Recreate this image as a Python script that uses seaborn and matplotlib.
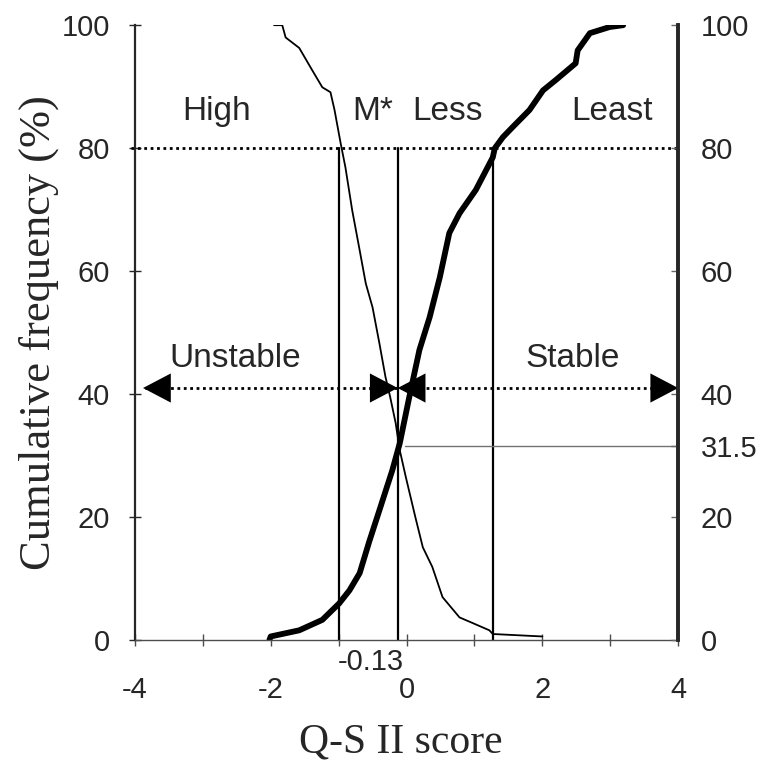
import numpy as np
import pandas as pd
import seaborn as sns
import matplotlib.pyplot as plt

# cumulative curve (thick) - ascending
asc_x = [-2.02, -2.0, -1.58, -1.24, -0.99, -0.84, -0.69, -0.55, -0.40, -0.21, -0.10,
         0.04, 0.19, 0.34, 0.49, 0.63, 0.78, 1.02, 1.27, 1.30, 1.42, 1.56, 1.81,
         2.01, 2.20, 2.49, 2.52, 2.70, 2.99, 3.19]
asc_y = [0, 0.6, 1.6, 3.3, 6.0, 8.1, 10.9, 16.0, 21.1, 27.6, 32.0,
         39.5, 47.2, 52.5, 59.0, 66.2, 69.4, 73.2, 78.5, 80.0, 81.8, 83.4, 86.2,
         89.4, 91.1, 93.8, 95.9, 98.7, 99.7, 100]

# cumulative curve (thin) - descending
desc_x = [-1.95, -1.83, -1.78, -1.58, -1.39, -1.24, -1.12, -1.06, -0.97, -0.90,
          -0.80, -0.69, -0.60, -0.50, -0.40, -0.31, -0.24, -0.16, -0.10, -0.01,
          0.13, 0.24, 0.38, 0.53, 0.78, 0.97, 1.22, 1.27, 2.0]
desc_y = [100, 100, 98.0, 96.3, 92.7, 89.9, 89.1, 86.2, 80.8, 76.9,
          69.9, 63.4, 58.0, 54.1, 48.3, 42.8, 39.5, 35.3, 30.9, 26.5,
          20.0, 15.1, 11.9, 7.0, 3.7, 2.8, 1.6, 1.0, 0.6]

cutoffs = [-1.0, -0.13, 1.28]
cut_level = 80
mid_level = 41
cross_value = 31.5

zone_labels = ["High", "M*", "Less", "Least"]
zone_x = [-2.80, -0.50, 0.60, 3.02]
side_labels = ["Unstable", "Stable"]
side_x = [-2.52, 2.45]

yticks = [0, 20, 40, 60, 80, 100]
right_ticks = [0, 20, 31.5, 40, 60, 80, 100]
right_labels = ["0", "20", "31.5", "40", "60", "80", "100"]
xticks = [-4, -2, 0, 2, 4]

sns.set_style("ticks")
plt.rcParams["font.family"] = ["Liberation Sans", "DejaVu Sans"]
plt.rcParams["axes.unicode_minus"] = False

fig = plt.figure(figsize=(7.62, 7.63), dpi=100)
ax = fig.add_axes([0.177, 0.161, 0.713, 0.806])

asc = pd.DataFrame({"x": asc_x, "y": asc_y})
desc = pd.DataFrame({"x": desc_x, "y": desc_y})
sns.lineplot(data=asc, x="x", y="y", ax=ax, color="black", lw=4.2,
             estimator=None, sort=False)
sns.lineplot(data=desc, x="x", y="y", ax=ax, color="black", lw=1.3,
             estimator=None, sort=False)

ax.set_xlim(-4, 4)
ax.set_ylim(0, 100)

# cutoff lines
for c in cutoffs:
    ax.plot([c, c], [0, cut_level], color="black", lw=1.6)

dots = (0, (1, 1.3))
ax.plot([-4.05, 4], [cut_level, cut_level], color="black", lw=2, ls=dots, clip_on=False)
ax.plot([-3.85, 4], [mid_level, mid_level], color="black", lw=2, ls=dots)
ax.plot([-0.02, 4], [cross_value, cross_value], color="0.45", lw=1)

# arrow heads
head = dict(arrowstyle="-|>,head_length=0.8,head_width=0.42", mutation_scale=25,
            color="black", lw=0, shrinkA=0, shrinkB=0)
for tip, back in [(-3.88, -3.3), (-0.13, -0.7), (-0.13, 0.45), (4.0, 3.4)]:
    ax.annotate("", xy=(tip, mid_level), xytext=(back, mid_level), arrowprops=head,
                annotation_clip=False)

for lab, x in zip(zone_labels, zone_x):
    ax.text(x, 85.9, lab, fontsize=24, ha="center", va="center")
for lab, x in zip(side_labels, side_x):
    ax.text(x, 45.8, lab, fontsize=24, ha="center", va="center")
ax.text(-0.52, -1.2, "-0.13", fontsize=21, ha="center", va="top")

# axes styling
ax.spines["top"].set_visible(False)
ax.spines["left"].set_linewidth(1.6)
ax.spines["right"].set_linewidth(2.6)
ax.spines["bottom"].set_linewidth(1)
ax.spines["bottom"].set_color("0.3")

ax.set_xticks(xticks)
ax.set_xticks(range(-4, 5), minor=True)
ax.tick_params(axis="x", which="both", direction="inout", length=8, width=1,
               color="0.3", labelsize=21, pad=22)
ax.set_yticks(yticks)
ax.tick_params(axis="y", direction="inout", length=8, width=1, labelsize=21, pad=14)

ax2 = ax.twinx()
ax2.set_ylim(0, 100)
ax2.set_yticks(right_ticks)
ax2.set_yticklabels(right_labels)
ax2.tick_params(axis="y", direction="in", length=5, width=1, color="0.4",
                labelsize=21, pad=16)
for s in ["top", "left", "bottom"]:
    ax2.spines[s].set_visible(False)
ax2.spines["right"].set_linewidth(2.6)

ax.set_xlabel("Q-S II score", family="Liberation Serif", fontsize=30)
ax.set_ylabel("Cumulative frequency (%)", family="Liberation Serif", fontsize=32)
ax.xaxis.set_label_coords(0.49, -0.135)
ax.yaxis.set_label_coords(-0.14, 0.5)

fig.savefig("out.png", dpi=100)
